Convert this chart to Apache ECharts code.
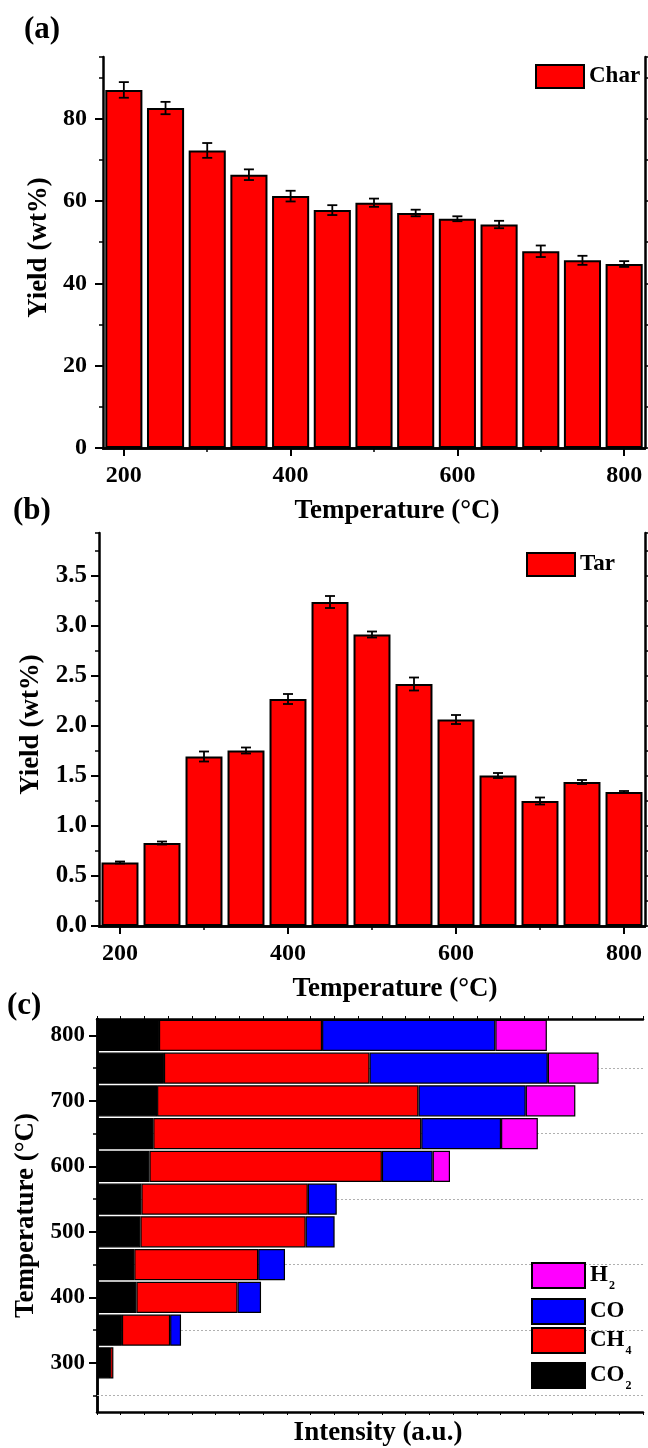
<!DOCTYPE html>
<html><head><meta charset="utf-8">
<script src="https://cdn.jsdelivr.net/npm/echarts@6/dist/echarts.min.js"></script>
<style>html,body{margin:0;padding:0;background:#fff}#c{width:648px;height:1448px}</style>
</head><body><div id="c"></div>
<script>
// ---------- data ----------
const temps = ['200','250','300','350','400','450','500','550','600','650','700','750','800'];
const charYield = [87.0, 82.6, 72.3, 66.4, 61.2, 57.8, 59.6, 57.1, 55.7, 54.3, 47.8, 45.6, 44.7];
const charErr   = [1.9, 1.5, 1.8, 1.3, 1.3, 1.2, 1.0, 0.8, 0.6, 0.9, 1.4, 1.1, 0.7];
const tarYield  = [0.635, 0.83, 1.695, 1.755, 2.27, 3.24, 2.915, 2.42, 2.065, 1.505, 1.25, 1.44, 1.34];
const tarErr    = [0.01, 0.015, 0.05, 0.03, 0.05, 0.06, 0.03, 0.065, 0.045, 0.025, 0.035, 0.02, 0.01];

const gasTemps = ['250','300','350','400','450','500','550','600','650','700','750','800'];
const co2 = [null, 0.55, 1.05, 1.66, 1.57, 1.83, 1.87, 2.21, 2.37, 2.53, 2.82, 2.61];
const ch4 = [null, 0.14, 2.03, 4.26, 5.22, 6.96, 7.01, 9.79, 11.29, 11.01, 8.66, 6.87];
const co  = [null, null, 0.46, 0.99, 1.13, 1.22, 1.22, 2.14, 3.36, 4.52, 7.51, 7.30];
const h2  = [null, null, null, null, null, null, null, 0.73, 1.55, 2.09, 2.14, 2.17];
const gridTemps = ['250','350','450','550','650','750'];

// ---------- style ----------
const F = "'Liberation Serif','Times New Roman',serif";
const TXT = {fontFamily: F, fontWeight: 'bold', color: '#000'};
const LW = 2.5;
const GA = {left: 103, top: 57, width: 542, height: 391};
const GB = {left: 99, top: 533, width: 546, height: 393};
const GC = {left: 97, top: 1019, width: 546, height: 393};

const chart = echarts.init(document.getElementById('c'), null, {renderer: 'canvas'});

function errSeries(xi, yi, vals, errs) {
  return {
    type: 'custom', xAxisIndex: xi, yAxisIndex: yi, z: 5, silent: true,
    data: vals.map((v, i) => [i, v, errs[i]]),
    renderItem(params, api) {
      const i = api.value(0), v = api.value(1), e = api.value(2);
      const t = api.coord([i, v + e]), b = api.coord([i, v - e]);
      const w = 5, st = {stroke: '#000', lineWidth: 1.8};
      return {type: 'group', children: [
        {type: 'line', shape: {x1: t[0], y1: t[1], x2: b[0], y2: b[1]}, style: st},
        {type: 'line', shape: {x1: t[0]-w, y1: t[1], x2: t[0]+w, y2: t[1]}, style: st},
        {type: 'line', shape: {x1: b[0]-w, y1: b[1], x2: b[0]+w, y2: b[1]}, style: st}
      ]};
    }
  };
}

const axLine = {show: true, lineStyle: {color: '#000', width: LW}};
function catBottom(grid, name) {
  return {type: 'category', gridIndex: grid, position: 'bottom', data: temps, boundaryGap: true,
    axisLine: axLine,
    axisTick: {show: true, alignWithLabel: true, interval: (i) => i % 4 === 0, length: 8, lineStyle: {width: 2, color: '#000'}},
    axisLabel: {interval: (i) => i % 4 === 0, margin: 16, fontSize: 24, ...TXT},
    name: name, nameLocation: 'middle', nameGap: 50,
    nameTextStyle: {fontSize: 27, ...TXT, padding: [0, 0, 0, 46]}};
}
function catTop(grid) {
  return {type: 'category', gridIndex: grid, position: 'top', data: temps, boundaryGap: true,
    axisLine: axLine,
    axisTick: {show: true, alignWithLabel: true, interval: (i) => i % 2 === 0, length: 4, lineStyle: {width: 1.5, color: '#000'}},
    axisLabel: {show: false}};
}
function catMinor(grid) {
  return {type: 'category', gridIndex: grid, position: 'bottom', data: temps, boundaryGap: true,
    axisLine: {show: false},
    axisTick: {show: true, alignWithLabel: true, interval: (i) => i % 4 === 2, length: 4, lineStyle: {width: 1.5, color: '#000'}},
    axisLabel: {show: false}};
}
function valLeft(grid, max, interval, margin, fs, gap, fmt) {
  return {type: 'value', gridIndex: grid, position: 'left', min: 0, max: max, interval: interval,
    axisLine: axLine, splitLine: {show: false},
    axisTick: {show: true, length: 8, lineStyle: {width: 2, color: '#000'}},
    axisLabel: {margin: margin, fontSize: fs, ...TXT, showMaxLabel: false, formatter: fmt},
    name: 'Yield (wt%)', nameLocation: 'middle', nameGap: gap,
    nameTextStyle: {fontSize: 27, ...TXT, padding: [0, 0, 0, 10]}};
}
function valAux(grid, pos, max, interval, showLine) {
  return {type: 'value', gridIndex: grid, position: pos, min: 0, max: max, interval: interval,
    axisLine: showLine ? axLine : {show: false}, splitLine: {show: false},
    axisTick: {show: true, length: 4, lineStyle: {width: 1.5, color: '#000'}},
    axisLabel: {show: false}};
}
const subRich = {n: {fontSize: 23, ...TXT}, s: {fontSize: 12, ...TXT, padding: [20, 0, 0, 1]}};

const option = {
  animation: false,
  backgroundColor: '#fff',
  grid: [GA, GA, GB, GB, GC, GC].map(g => ({...g, containLabel: false})),
  graphic: [
    {type: 'text', left: 24, top: 14, style: {text: '(a)', font: `bold 31px ${F}`, fill: '#000'}},
    {type: 'text', left: 13, top: 495, style: {text: '(b)', font: `bold 31px ${F}`, fill: '#000'}},
    {type: 'text', left: 7, top: 990, style: {text: '(c)', font: `bold 31px ${F}`, fill: '#000'}}
  ],
  xAxis: [
    catBottom(0, 'Temperature (°C)'),   // 0
    catTop(0),                           // 1
    catMinor(1),                         // 2
    catBottom(2, 'Temperature (°C)'),   // 3
    catTop(2),                           // 4
    catMinor(3),                         // 5
    {type: 'value', gridIndex: 4, position: 'bottom', min: 0, max: 23, interval: 1,   // 6
      axisLine: axLine, splitLine: {show: false},
      axisTick: {show: true, length: 3, lineStyle: {width: 1, color: '#000'}},
      axisLabel: {show: false},
      name: 'Intensity (a.u.)', nameLocation: 'middle', nameGap: 8,
      nameTextStyle: {fontSize: 27, ...TXT, padding: [0, 0, 0, 16]}},
    {type: 'value', gridIndex: 4, position: 'top', min: 0, max: 23, interval: 1,      // 7
      axisLine: axLine, splitLine: {show: false},
      axisTick: {show: true, length: 3, lineStyle: {width: 1, color: '#000'}},
      axisLabel: {show: false}},
    {type: 'value', gridIndex: 5, min: 0, max: 23, show: false}                        // 8
  ],
  yAxis: [
    valLeft(0, 95, 20, 16, 24, 46, v => String(v)),         // 0
    valAux(0, 'right', 95, 10, true),                        // 1
    valAux(1, 'left', 95, 10, false),                        // 2
    valLeft(2, 3.93, 0.5, 12, 25, 50, v => v.toFixed(1)),   // 3
    valAux(2, 'right', 3.93, 0.25, true),                    // 4
    valAux(3, 'left', 3.93, 0.25, false),                    // 5
    {type: 'category', gridIndex: 4, position: 'left', data: gasTemps, boundaryGap: true,   // 6
      axisLine: axLine,
      axisTick: {show: true, alignWithLabel: true, interval: (i) => i % 2 === 1, length: 8, lineStyle: {width: 2, color: '#000'}},
      axisLabel: {interval: (i) => i % 2 === 1, margin: 12, fontSize: 23, ...TXT},
      name: 'Temperature (°C)', nameLocation: 'middle', nameGap: 54,
      nameTextStyle: {fontSize: 27, ...TXT}},
    {type: 'category', gridIndex: 4, position: 'right', data: gasTemps, boundaryGap: true,  // 7
      axisLine: axLine, axisTick: {show: false}, axisLabel: {show: false}},
    {type: 'category', gridIndex: 5, position: 'left', data: gasTemps, boundaryGap: true,   // 8
      axisLine: {show: false},
      axisTick: {show: true, alignWithLabel: true, interval: (i) => i % 2 === 0, length: 4, lineStyle: {width: 1.5, color: '#000'}},
      axisLabel: {show: false}}
  ],
  legend: [
    {data: ['Char'], left: 535, top: 64, padding: 0, icon: 'rect', itemWidth: 48, itemHeight: 23, textStyle: {fontSize: 23, ...TXT}},
    {data: ['Tar'], left: 526, top: 552, padding: 0, icon: 'rect', itemWidth: 48, itemHeight: 23, textStyle: {fontSize: 23, ...TXT}},
    {data: ['H2'], left: 531, top: 1262, padding: 0, icon: 'rect', itemWidth: 53, itemHeight: 25,
      formatter: () => '{n|H}{s|2}', textStyle: {...TXT, rich: subRich}},
    {data: ['CO'], left: 531, top: 1298, padding: 0, icon: 'rect', itemWidth: 53, itemHeight: 25,
      textStyle: {fontSize: 23, ...TXT}},
    {data: ['CH4'], left: 531, top: 1327, padding: 0, icon: 'rect', itemWidth: 53, itemHeight: 25,
      formatter: () => '{n|CH}{s|4}', textStyle: {...TXT, rich: subRich}},
    {data: ['CO2'], left: 531, top: 1362, padding: 0, icon: 'rect', itemWidth: 53, itemHeight: 25,
      formatter: () => '{n|CO}{s|2}', textStyle: {...TXT, rich: subRich}}
  ],
  series: [
    {name: 'Char', type: 'bar', xAxisIndex: 0, yAxisIndex: 0, data: charYield, barCategoryGap: '11%',
      itemStyle: {color: '#ff0000', borderColor: '#000', borderWidth: 2}},
    errSeries(0, 0, charYield, charErr),
    {name: 'Tar', type: 'bar', xAxisIndex: 3, yAxisIndex: 3, data: tarYield, barCategoryGap: '12%',
      itemStyle: {color: '#ff0000', borderColor: '#000', borderWidth: 2}},
    errSeries(3, 3, tarYield, tarErr),
    {type: 'line', xAxisIndex: 6, yAxisIndex: 6, data: [], z: 1,
      markLine: {silent: true, symbol: 'none', z: 1, animation: false, label: {show: false},
        lineStyle: {color: '#b0b0b0', type: [2, 2], width: 1},
        data: gridTemps.map(t => ({yAxis: t}))}},
    {name: 'CO2', type: 'bar', stack: 'gas', xAxisIndex: 6, yAxisIndex: 6, data: co2, barCategoryGap: '5%', z: 3,
      itemStyle: {color: '#000000', borderColor: '#000', borderWidth: 1.2}},
    {name: 'CH4', type: 'bar', stack: 'gas', xAxisIndex: 6, yAxisIndex: 6, data: ch4, barCategoryGap: '5%', z: 3,
      itemStyle: {color: '#ff0000', borderColor: '#000', borderWidth: 1.2}},
    {name: 'CO', type: 'bar', stack: 'gas', xAxisIndex: 6, yAxisIndex: 6, data: co, barCategoryGap: '5%', z: 3,
      itemStyle: {color: '#0000ff', borderColor: '#000', borderWidth: 1.2}},
    {name: 'H2', type: 'bar', stack: 'gas', xAxisIndex: 6, yAxisIndex: 6, data: h2, barCategoryGap: '5%', z: 3,
      itemStyle: {color: '#ff00ff', borderColor: '#000', borderWidth: 1.2}}
  ]
};
chart.setOption(option);
</script>
</body></html>
